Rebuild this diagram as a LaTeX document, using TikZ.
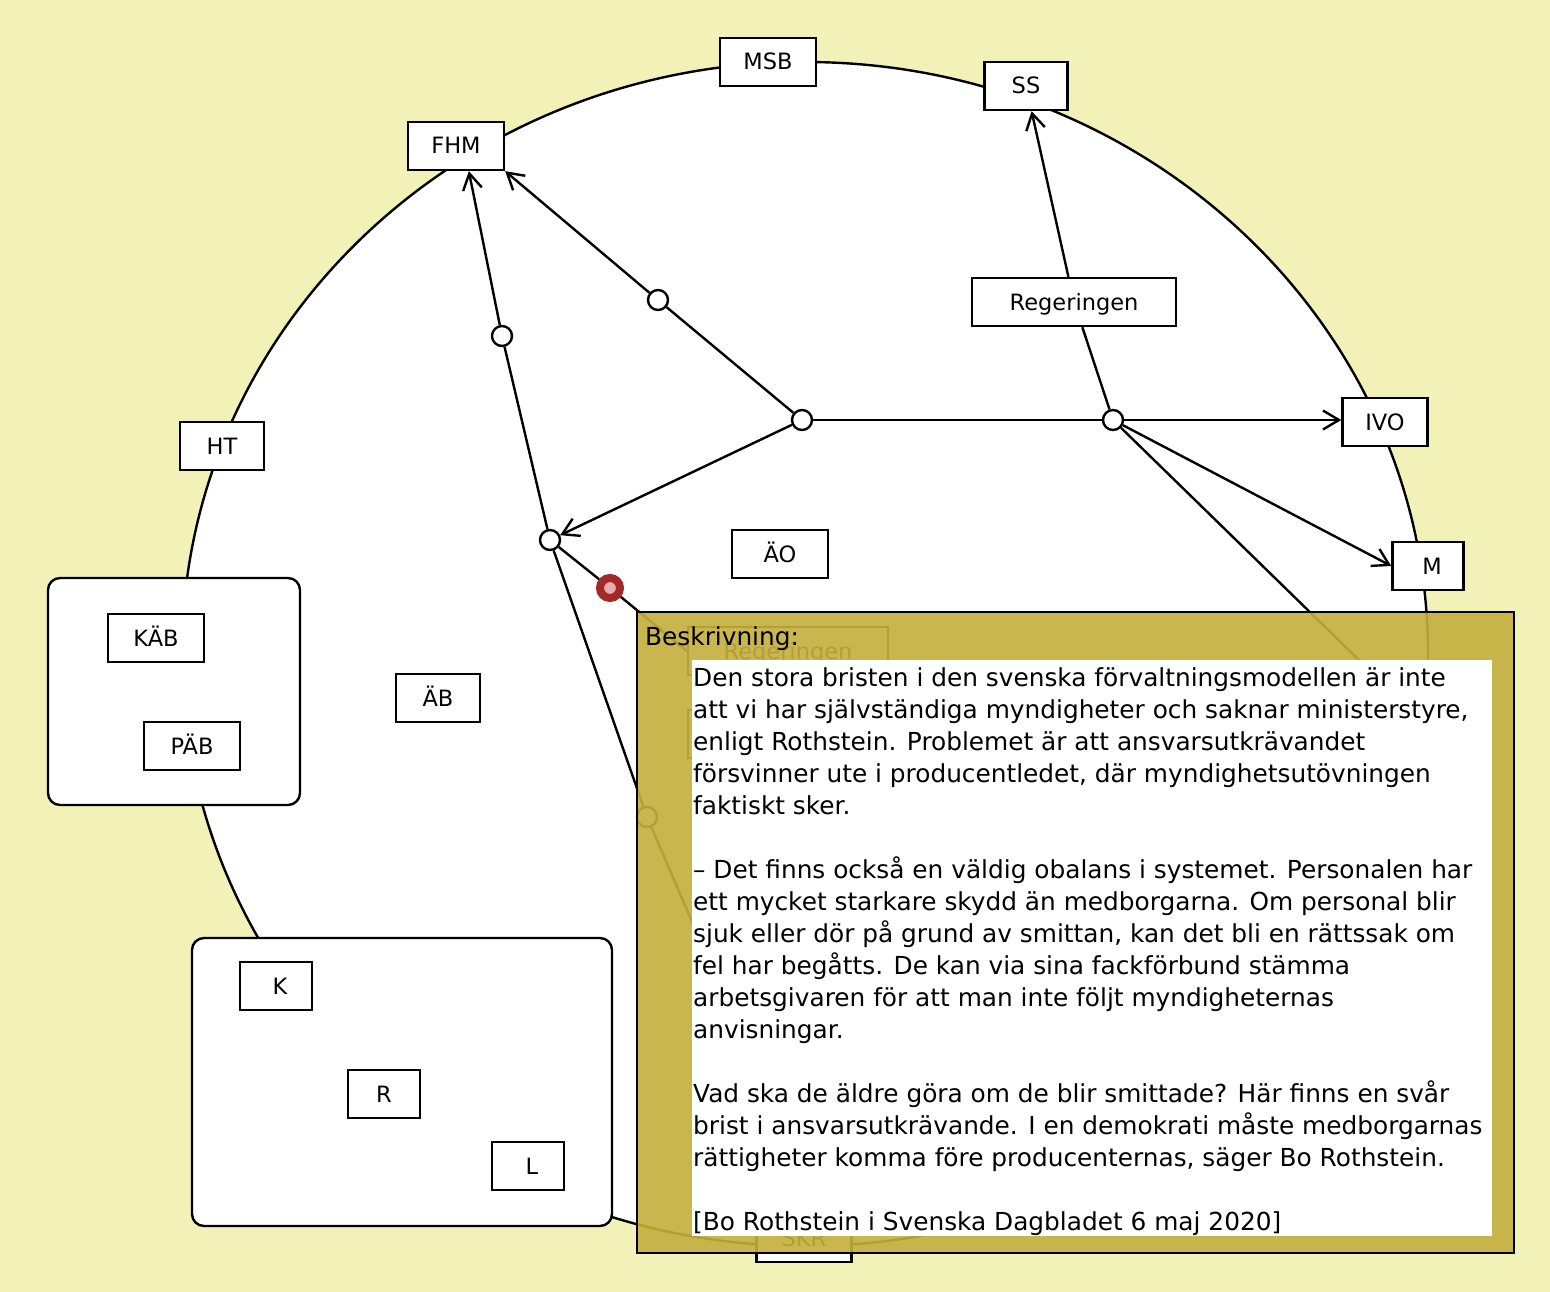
\documentclass[tikz,border=0pt]{standalone}
\usepackage{fontspec}
\setmainfont{DejaVu Sans}
\usetikzlibrary{arrows.meta}
\definecolor{bakgrund}{RGB}{242,242,184}
\definecolor{oker}{RGB}{196,175,62}
\definecolor{rodmork}{RGB}{163,40,42}
\definecolor{rodljus}{RGB}{232,172,174}

\begin{document}
\begin{tikzpicture}[
        x=1pt, y=-1pt,
        ruta/.style={draw, fill=white, line width=2.4pt, minimum width=96pt, minimum height=48pt, inner sep=0pt, text height=16pt, text depth=0pt, font=\fontsize{22.5}{26}\selectfont},
        punkt/.style={circle, draw, fill=white, line width=2.4pt, minimum size=20pt, inner sep=0pt},
        grupp/.style={draw, fill=white, line width=2.4pt, rounded corners=12pt, inner sep=0pt},
        linje/.style={line width=2.4pt},
        pil/.style={linje, -{Straight Barb[length=16pt, width=19pt]}}
    ]
    \useasboundingbox (0,0) rectangle (1550,1292);
    \fill[bakgrund] (0,0) rectangle (1550,1292);
    \draw[linje, fill=white] (805,654) ellipse [x radius=623, y radius=592];

    \node[ruta] (MSB) at (768,62) {MSB};
    \node[ruta, minimum width=83pt] (SS) at (1026,86) {SS};
    \node[ruta] (FHM) at (456,146) {FHM};
    \node[ruta, minimum width=204pt] (Regeringen) at (1074,302) {Regeringen};
    \node[ruta, minimum width=84pt] (HT) at (222,446) {HT};
    \node[ruta, minimum width=85pt] (IVO) at (1385,422) {IVO};
    \node[ruta, minimum width=71pt] (M) at (1428,566) {\hspace{8pt}M};
    \node[ruta] (AO) at (780,554) {ÄO};
    \node[ruta, minimum width=84pt] (AB) at (438,698) {ÄB};
    \node[ruta, minimum width=200pt] (Regeringen_dold) at (788,651) {Regeringen};
    \node[ruta] (dold_ruta) at (736,734) {};
    \node[ruta, minimum width=95pt] (SKR) at (804,1238) {SKR};

    \node[grupp, minimum width=252pt, minimum height=227pt] (grupp_vast) at (174,691.5) {};
    \node[ruta] (KAB) at (156,638) {KÄB};
    \node[ruta] (PAB) at (192,746) {PÄB};

    \node[grupp, minimum width=420pt, minimum height=288pt] (grupp_syd) at (402,1082) {};
    \node[ruta, minimum width=72pt] (K) at (276,986) {\hspace{8pt}K};
    \node[ruta, minimum width=72pt] (R) at (384,1094) {R};
    \node[ruta, minimum width=72pt] (L) at (528,1166) {\hspace{8pt}L};

    \node[punkt] (p1) at (502,336) {};
    \node[punkt] (p2) at (658,300) {};
    \node[punkt] (p3) at (802,420) {};
    \node[punkt] (p4) at (1113,420) {};
    \node[punkt] (p5) at (550,540) {};
    \node[punkt] (p6) at (647,817) {};
    \node[circle, draw=rodmork, line width=8pt, fill=rodljus, minimum size=20pt, inner sep=0pt] (vald) at (610,588) {};
    \coordinate (p4_slut) at (1400,700);
    \coordinate (p6_slut) at (730,1010);

    \draw[linje] (p5) -- (p1);
    \draw[pil] (p1) -- (FHM.-63);
    \draw[linje] (p3) -- (p2);
    \draw[pil] (p2) -- (FHM.south east);
    \draw[pil] (p3) -- (p5);
    \draw[linje] (p3) -- (p4);
    \draw[pil] (p4) -- (IVO.west |- p4);
    \draw[pil] (p4) -- (M.west);
    \draw[linje] (p4) -- (p4_slut);
    \draw[linje] (p4) -- (Regeringen);
    \draw[pil] (Regeringen) -- (SS);
    \draw[linje] (p5) -- (p6);
    \draw[linje] (p6) -- (p6_slut);
    \draw[linje] (p5) -- (vald);
    \draw[linje] (vald) -- (Regeringen_dold.west);

    \node[draw, line width=2.4pt, fill=oker, fill opacity=0.91, minimum width=877pt, minimum height=641pt, anchor=north west, inner sep=0pt] (panel) at (636,611) {};
    \node[fill=white, minimum width=800pt, minimum height=576pt, anchor=north west, inner sep=0pt] (textyta) at (692,660) {};
    \node[anchor=base west, inner sep=0pt, font=\fontsize{24.8}{32}\selectfont] (rubrik) at (645,645) {Beskrivning:};
    \node[anchor=north west, inner sep=0pt, align=left, font=\fontsize{24.8}{32}\selectfont] (brodtext) at (693,667) {%
        Den stora bristen i den svenska förvaltningsmodellen är inte\\
        att vi har självständiga myndigheter och saknar ministerstyre,\\
        enligt Rothstein. Problemet är att ansvarsutkrävandet\\
        försvinner ute i producentledet, där myndighetsutövningen\\
        faktiskt sker.\\[32pt]
        – Det finns också en väldig obalans i systemet. Personalen har\\
        ett mycket starkare skydd än medborgarna. Om personal blir\\
        sjuk eller dör på grund av smittan, kan det bli en rättssak om\\
        fel har begåtts. De kan via sina fackförbund stämma\\
        arbetsgivaren för att man inte följt myndigheternas\\
        anvisningar.\\[32pt]
        Vad ska de äldre göra om de blir smittade? Här finns en svår\\
        brist i ansvarsutkrävande. I en demokrati måste medborgarnas\\
        rättigheter komma före producenternas, säger Bo Rothstein.\\[32pt]
        [Bo Rothstein i Svenska Dagbladet 6 maj 2020]};
\end{tikzpicture}
\end{document}
